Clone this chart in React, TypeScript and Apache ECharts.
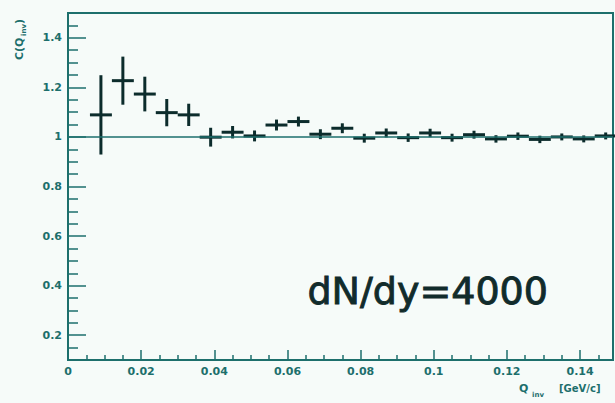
import React, { useEffect, useRef } from "react";
import * as echarts from "echarts";

// Correlation function C(Q_inv) per bin: bin centres, values and statistical errors
const qInv = [
  0.009, 0.015, 0.021, 0.027, 0.033, 0.039, 0.045, 0.051, 0.057, 0.063, 0.069, 0.075,
  0.081, 0.087, 0.093, 0.099, 0.105, 0.111, 0.117, 0.123, 0.129, 0.135, 0.141, 0.147,
];
const cValues = [
  1.089, 1.227, 1.173, 1.098, 1.089, 0.999, 1.019, 1.004, 1.048, 1.062, 1.011, 1.035,
  0.995, 1.016, 0.997, 1.016, 0.997, 1.009, 0.992, 1.003, 0.99, 1.0, 0.992, 1.004,
];
const cErrors = [
  0.16, 0.097, 0.07, 0.055, 0.045, 0.038, 0.025, 0.022, 0.022, 0.02, 0.02, 0.02,
  0.018, 0.018, 0.017, 0.017, 0.016, 0.016, 0.015, 0.015, 0.015, 0.014, 0.014, 0.014,
];
const binWidth = 0.006;

// Axis ticks
const xMajorTicks = [0, 0.02, 0.04, 0.06, 0.08, 0.1, 0.12, 0.14];
const xMinorTicks = [
  0.005, 0.01, 0.015, 0.025, 0.03, 0.035, 0.045, 0.05, 0.055, 0.065, 0.07, 0.075,
  0.085, 0.09, 0.095, 0.105, 0.11, 0.115, 0.125, 0.13, 0.135, 0.145,
];
const yMajorTicks = [0.2, 0.4, 0.6, 0.8, 1, 1.2, 1.4];
const yMinorTicks = [
  0.15, 0.25, 0.3, 0.35, 0.45, 0.5, 0.55, 0.65, 0.7, 0.75, 0.85, 0.9, 0.95,
  1.05, 1.1, 1.15, 1.25, 1.3, 1.35, 1.45,
];
const xRange = [0, 0.149];
const yRange = [0.1, 1.5];
const referenceLevel = 1;
const annotation = "dN/dy=4000";

const AXIS = "#1d6f6c";
const MARK = "#0c2c2c";
const LABEL_FONT = "'DejaVu Sans', sans-serif";

export default function App() {
  const ref = useRef<HTMLDivElement>(null);

  useEffect(() => {
    if (!ref.current) return;
    const chart = echarts.init(ref.current, null, { renderer: "svg" });

    const baseX = {
      type: "value" as const,
      min: xRange[0],
      max: xRange[1],
      position: "bottom" as const,
      splitLine: { show: false },
    };
    const baseY = {
      type: "value" as const,
      min: yRange[0],
      max: yRange[1],
      position: "left" as const,
      splitLine: { show: false },
    };
    const labelStyle = {
      color: AXIS,
      fontFamily: LABEL_FONT,
      fontWeight: "bold" as const,
      fontSize: 11,
    };

    chart.setOption({
      animation: false,
      backgroundColor: "#f6fbf9",
      grid: {
        left: 68,
        top: 13,
        right: 2,
        bottom: 43,
        show: true,
        borderColor: AXIS,
        borderWidth: 2,
        backgroundColor: "transparent",
      },
      xAxis: [
        {
          ...baseX,
          axisLine: { show: true, lineStyle: { color: AXIS, width: 2 } },
          axisTick: {
            show: true,
            inside: true,
            length: 10,
            customValues: xMajorTicks,
            lineStyle: { color: AXIS, width: 1.5 },
          },
          axisLabel: {
            show: true,
            customValues: xMajorTicks,
            margin: 6,
            ...labelStyle,
          },
        },
        {
          ...baseX,
          axisLine: { show: false },
          axisLabel: { show: false },
          axisTick: {
            show: true,
            inside: true,
            length: 5,
            customValues: xMinorTicks,
            lineStyle: { color: AXIS, width: 1.5 },
          },
        },
      ],
      yAxis: [
        {
          ...baseY,
          axisLine: { show: true, lineStyle: { color: AXIS, width: 2 } },
          axisTick: {
            show: true,
            inside: true,
            length: 18,
            customValues: yMajorTicks,
            lineStyle: { color: AXIS, width: 1.5 },
          },
          axisLabel: {
            show: true,
            customValues: yMajorTicks,
            margin: 6,
            ...labelStyle,
          },
        },
        {
          ...baseY,
          axisLine: { show: false },
          axisLabel: { show: false },
          axisTick: {
            show: true,
            inside: true,
            length: 10,
            customValues: yMinorTicks,
            lineStyle: { color: AXIS, width: 1.5 },
          },
        },
      ],
      series: [
        {
          type: "custom",
          xAxisIndex: 0,
          yAxisIndex: 0,
          z: 3,
          data: qInv.map((q, i) => [q, cValues[i], cErrors[i]]),
          encode: { x: 0, y: 1 },
          renderItem: (_params: any, api: any) => {
            const q = api.value(0);
            const c = api.value(1);
            const e = api.value(2);
            const lo = api.coord([q, c - e]);
            const hi = api.coord([q, c + e]);
            const left = api.coord([q - binWidth / 2, c]);
            const right = api.coord([q + binWidth / 2, c]);
            const style = { stroke: MARK, lineWidth: 3 };
            return {
              type: "group",
              children: [
                { type: "line", shape: { x1: lo[0], y1: lo[1], x2: hi[0], y2: hi[1] }, style },
                { type: "line", shape: { x1: left[0], y1: left[1], x2: right[0], y2: right[1] }, style },
              ],
            };
          },
          markLine: {
            silent: true,
            symbol: "none",
            label: { show: false },
            lineStyle: { color: AXIS, width: 1.5, type: "solid" },
            data: [{ yAxis: referenceLevel }],
          },
        },
      ],
      graphic: [
        {
          type: "text",
          left: 307,
          top: 272,
          style: {
            text: annotation,
            fill: "#112b2b",
            stroke: "#112b2b",
            lineWidth: 0.9,
            fontFamily: LABEL_FONT,
            fontSize: 38,
          },
        },
        // y-axis title C(Q_inv), reading upward
        {
          type: "group",
          x: 19,
          y: 60,
          rotation: Math.PI / 2,
          children: [
            {
              type: "text",
              x: 0,
              y: 0,
              style: { text: "C(Q", fill: AXIS, fontFamily: LABEL_FONT, fontWeight: "bold", fontSize: 11, textVerticalAlign: "middle" },
            },
            {
              type: "text",
              x: 24,
              y: 5,
              style: { text: "inv", fill: AXIS, fontFamily: LABEL_FONT, fontWeight: "bold", fontSize: 7, textVerticalAlign: "middle" },
            },
            {
              type: "text",
              x: 36,
              y: 0,
              style: { text: ")", fill: AXIS, fontFamily: LABEL_FONT, fontWeight: "bold", fontSize: 11, textVerticalAlign: "middle" },
            },
          ],
        },
        // x-axis title Q_inv [GeV/c]
        {
          type: "text",
          x: 519,
          y: 388,
          style: { text: "Q", fill: AXIS, fontFamily: LABEL_FONT, fontWeight: "bold", fontSize: 11, textVerticalAlign: "middle" },
        },
        {
          type: "text",
          x: 532,
          y: 395,
          style: { text: "inv", fill: AXIS, fontFamily: LABEL_FONT, fontWeight: "bold", fontSize: 7, textVerticalAlign: "middle" },
        },
        {
          type: "text",
          x: 559,
          y: 388,
          style: { text: "[GeV/c]", fill: AXIS, fontFamily: LABEL_FONT, fontWeight: "bold", fontSize: 10, textVerticalAlign: "middle" },
        },
      ],
    });

    return () => chart.dispose();
  }, []);

  return (
    <div
      ref={ref}
      style={{ position: "fixed", left: 0, top: 0, width: 615, height: 403 }}
    />
  );
}
